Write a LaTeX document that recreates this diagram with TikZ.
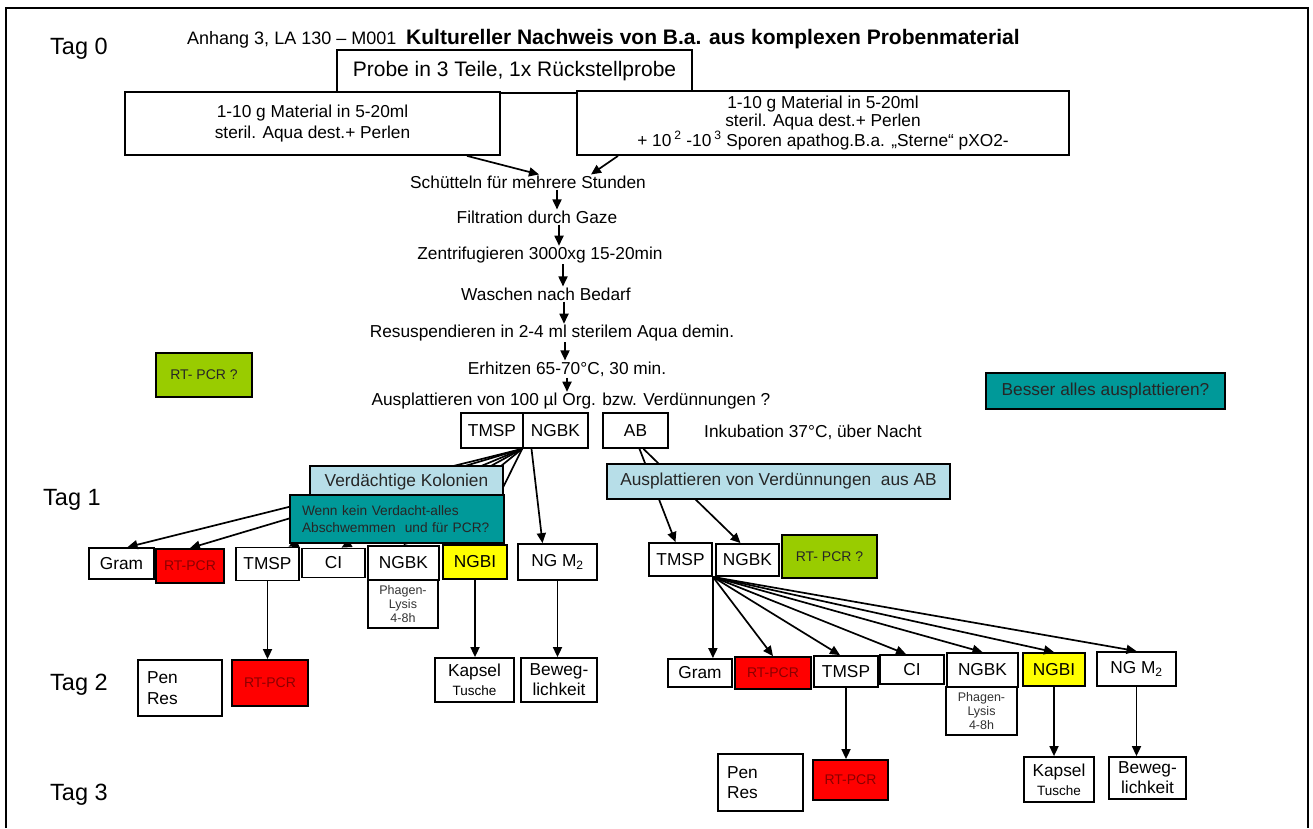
\documentclass[tikz,border=0pt]{standalone}
\usepackage{fontspec}
\setmainfont{Liberation Sans}
\usetikzlibrary{arrows.meta, positioning}

\definecolor{rtred}{HTML}{FF0000}
\definecolor{rttext}{HTML}{8B0000}
\definecolor{ngbiyel}{HTML}{FFFF00}
\definecolor{pcrgreen}{HTML}{99CC00}
\definecolor{tealbox}{HTML}{009999}
\definecolor{lightbox}{HTML}{B7DEE8}

\newcommand{\fsbody}{\fontsize{17.3}{20.5}\selectfont}
\newcommand{\fssmall}{\fontsize{13.5}{17}\selectfont}
\newcommand{\fstiny}{\fontsize{12.5}{14}\selectfont}

\begin{document}
\begin{tikzpicture}[x=1pt, y=-1pt,
  box/.style={draw, line width=1.8pt, fill=white, inner sep=0pt, font=\fsbody, align=center},
  sz/.style 2 args={minimum width=#1pt, minimum height=#2pt},
  txt/.style={inner sep=1pt, font=\fsbody},
  tag/.style={inner sep=0pt, anchor=west, font=\fontsize{23.5}{27}\selectfont},
  arr/.style={-{Triangle[length=10pt,width=9pt]}, line width=1.7pt},
]
\useasboundingbox (0,0) rectangle (1313,828);
\draw[line width=2.8pt] (6,828) -- (6,8) -- (1308,8) -- (1308,828);

% Kopf
\node[anchor=base west, inner sep=0pt, font=\fontsize{18}{20}\selectfont] (head) at (187,44) {Anhang 3, LA 130 – M001};
\node[anchor=base west, inner sep=0pt, font=\fontsize{21}{24}\selectfont\bfseries] (title) at (406,44) {Kultureller Nachweis von B.a. aus komplexen Probenmaterial};

\node[tag] (tag0) at (50,49) {Tag 0};
\node[tag] (tag1) at (43,500) {Tag 1};
\node[tag] (tag2) at (50,685) {Tag 2};
\node[tag] (tag3) at (50,795) {Tag 3};

% Tag 0
\node[box, sz={355}{43}, font=\fontsize{21}{24}\selectfont] (probe) at (514.5,71.5) {Probe in 3 Teile, 1x Rückstellprobe};
\node[box, sz={375}{63}] (matL) at (312.5,123.5) {1-10 g Material in 5-20ml\\steril. Aqua dest.+ Perlen};
\node[box, sz={492}{64}, font=\fontsize{17.3}{18}\selectfont] (matR) at (823,123) {1-10 g Material in 5-20ml\\steril. Aqua dest.+ Perlen\\+ 10\,\textsuperscript{2} -10\,\textsuperscript{3} Sporen apathog.B.a. „Sterne“ pXO2-};

\node[txt] (shake) at (528,182) {Schütteln für mehrere Stunden};
\node[txt] (filt) at (537,217) {Filtration durch Gaze};
\node[txt] (zent) at (540,255) {Zentrifugieren 3000xg 15-20min};
\node[txt] (wasch) at (546,294) {Waschen nach Bedarf};
\node[txt] (resus) at (552,333) {Resuspendieren in 2-4 ml sterilem Aqua demin.};
\node[txt] (erhitz) at (567,369) {Erhitzen 65-70°C, 30 min.};
\node[txt] (auspl) at (571,401) {Ausplattieren von 100 µl Org. bzw. Verdünnungen ?};

\node[box, sz={62}{35}] (tmspA) at (492,430.5) {TMSP};
\node[box, sz={65}{35}] (ngbkA) at (555.5,430.5) {NGBK};
\node[box, sz={65}{35}] (ab) at (635.5,430.5) {AB};
\node[txt] (inkub) at (813,432) {Inkubation 37°C, über Nacht};

\node[box, fill=pcrgreen, sz={96}{44}, font=\fontsize{14}{16}\selectfont, text=black!85] (pcrL) at (204,375) {RT- PCR ?};
\node[box, fill=tealbox, sz={239}{36}, text=black!85] (besser) at (1105.5,391) {Besser alles ausplattieren?};

% Tag 1 links
\node[box, sz={65}{31}] (gram1) at (121.5,563.5) {Gram};
\node[box, fill=rtred, sz={68}{34}, font=\fontsize{14}{15}\selectfont, text=rttext] (rtpcr1) at (190,566) {RT-PCR};
\node[box, sz={63}{33}] (tmspB) at (267.5,564) {TMSP};
\node[box, sz={63}{29}] (ci1) at (333.5,563) {CI};
\node[box, sz={71}{34}] (ngbkB) at (403.5,563) {NGBK};
\node[box, sz={70}{48}, font=\fstiny, text=black!80] (phag1) at (403,604) {Phagen-\\Lysis\\4-8h};
\node[box, fill=ngbiyel, sz={64}{34}] (ngbi1) at (475,562) {NGBI};
\node[box, sz={79}{36}] (ngm1) at (557.5,562) {NG M\textsubscript{2}};

% Tag 2 links
\node[box, sz={84}{56}, align=left, text width=66pt] (penres1) at (180,688) {Pen\\Res};
\node[box, fill=rtred, sz={76}{46}, font=\fontsize{14}{15}\selectfont, text=rttext] (rtpcr2) at (270,683) {RT-PCR};
\node[box, sz={79}{44}, font=\fontsize{17.3}{19}\selectfont] (kapsel1) at (474.5,680) {Kapsel\\{\fssmall Tusche}};
\node[box, sz={76}{44}, font=\fontsize{17.3}{20}\selectfont] (beweg1) at (559,680) {Beweg-\\lichkeit};

% rechts, Tag 1
\node[box, sz={63}{33}] (tmspR) at (680.5,559.5) {TMSP};
\node[box, sz={63}{32}] (ngbkR) at (747.5,560) {NGBK};
\node[box, fill=pcrgreen, sz={95}{43}, font=\fontsize{14}{16}\selectfont, text=black!85] (pcrR) at (829.5,556.5) {RT- PCR ?};

% rechts, Tag 2
\node[box, sz={64}{28}] (gramR) at (700,673) {Gram};
\node[box, fill=rtred, sz={76}{32}, font=\fontsize{14}{15}\selectfont, text=rttext] (rtpcrR) at (773,673) {RT-PCR};
\node[box, sz={64}{31}] (tmspR2) at (846,671.5) {TMSP};
\node[box, sz={64}{29}] (ciR) at (912,669.5) {CI};
\node[box, sz={71}{34}] (ngbkR2) at (982.5,670) {NGBK};
\node[box, sz={71}{48}, font=\fstiny, text=black!80] (phagR) at (981.5,711) {Phagen-\\Lysis\\4-8h};
\node[box, fill=ngbiyel, sz={62}{33}] (ngbiR) at (1054,669.5) {NGBI};
\node[box, sz={79}{34}] (ngmR) at (1136.5,669) {NG M\textsubscript{2}};

% rechts, Tag 3
\node[box, sz={85}{57}, align=left, text width=67pt] (penresR) at (760.5,782.5) {Pen\\Res};
\node[box, fill=rtred, sz={75}{40}, font=\fontsize{14}{15}\selectfont, text=rttext] (rtpcrR3) at (850.5,780) {RT-PCR};
\node[box, sz={70}{45}, font=\fontsize{17.3}{19}\selectfont] (kapselR) at (1059,779.5) {Kapsel\\{\fssmall Tusche}};
\node[box, sz={77}{42}, font=\fontsize{17.3}{20}\selectfont] (bewegR) at (1147.5,778) {Beweg-\\lichkeit};

% Pfeile
\draw[arr] ([xshift=154.5pt]matL.south) -- ([xshift=11pt]shake.north);
\draw[arr] ([xshift=-205pt]matR.south) -- ([xshift=63pt]shake.north);
\draw[arr] ([xshift=29pt]shake.south) -- ([xshift=20pt]filt.north);
\draw[arr] ([xshift=22pt]filt.south) -- ([xshift=19pt]zent.north);
\draw[arr] ([xshift=23pt]zent.south) -- ([xshift=17pt]wasch.north);
\draw[arr] ([xshift=18pt]wasch.south) -- ([xshift=12pt]resus.north);
\draw[arr] ([xshift=13pt]resus.south) -- ([xshift=-2pt]erhitz.north);
\draw[arr] (erhitz.south) -- ([xshift=-4pt]auspl.north);

\foreach \t in {rtpcr1, ngbkB, ngbi1}
  \draw[arr] (ngbkA.south west) -- (\t.north);
\draw[arr] (ngbkA.south west) -- ([xshift=6pt]gram1.north);
\draw[arr] (ngbkA.south west) -- ([xshift=21pt]tmspB.north);
\draw[arr] (ngbkA.south west) -- ([xshift=8pt]ci1.north);
\draw[arr] ([xshift=-24pt]ngbkA.south) -- ([xshift=-15pt]ngm1.north);

\draw[arr] ([xshift=4pt]ab.south) -- ([xshift=-5pt]tmspR.north);
\draw[arr] ([xshift=8pt]ab.south) -- ([xshift=-7pt]ngbkR.north);

\draw[arr] (tmspR.south east) -- (tmspR.south east |- gramR.north);
\foreach \t in {rtpcrR, ngbkR2, ngbiR, ngmR}
  \draw[arr] (tmspR.south east) -- (\t.north);
\draw[arr] (tmspR.south east) -- ([xshift=-6pt]tmspR2.north);
\draw[arr] (tmspR.south east) -- ([xshift=-6pt]ciR.north);

\draw[arr] (tmspB.south) -- (tmspB.south |- rtpcr2.north);
\draw[arr] (ngbi1.south) -- (ngbi1.south |- kapsel1.north);
\draw[arr] (ngm1.south) -- (ngm1.south |- beweg1.north);
\draw[arr] (tmspR2.south) -- (tmspR2.south |- rtpcrR3.north);
\draw[arr] (ngbiR.south) -- (ngbiR.south |- kapselR.north);
\draw[arr] (ngmR.south) -- (ngmR.south |- bewegR.north);

% Kaesten ueber den Pfeilen
\node[box, fill=lightbox, sz={193}{32}, text=black!85] (verd) at (406.5,482) {Verdächtige Kolonien};
\node[box, fill=tealbox, sz={214}{48}, font=\fontsize{13.7}{17}\selectfont, text=black!85, align=left, text width=190pt] (teal) at (397,519) {Wenn kein Verdacht-alles\\Abschwemmen~ und für PCR?};
\node[box, fill=lightbox, sz={343}{35}, text=black!85] (abverd) at (778.5,481.5) {Ausplattieren von Verdünnungen~ aus AB};
\end{tikzpicture}
\end{document}
